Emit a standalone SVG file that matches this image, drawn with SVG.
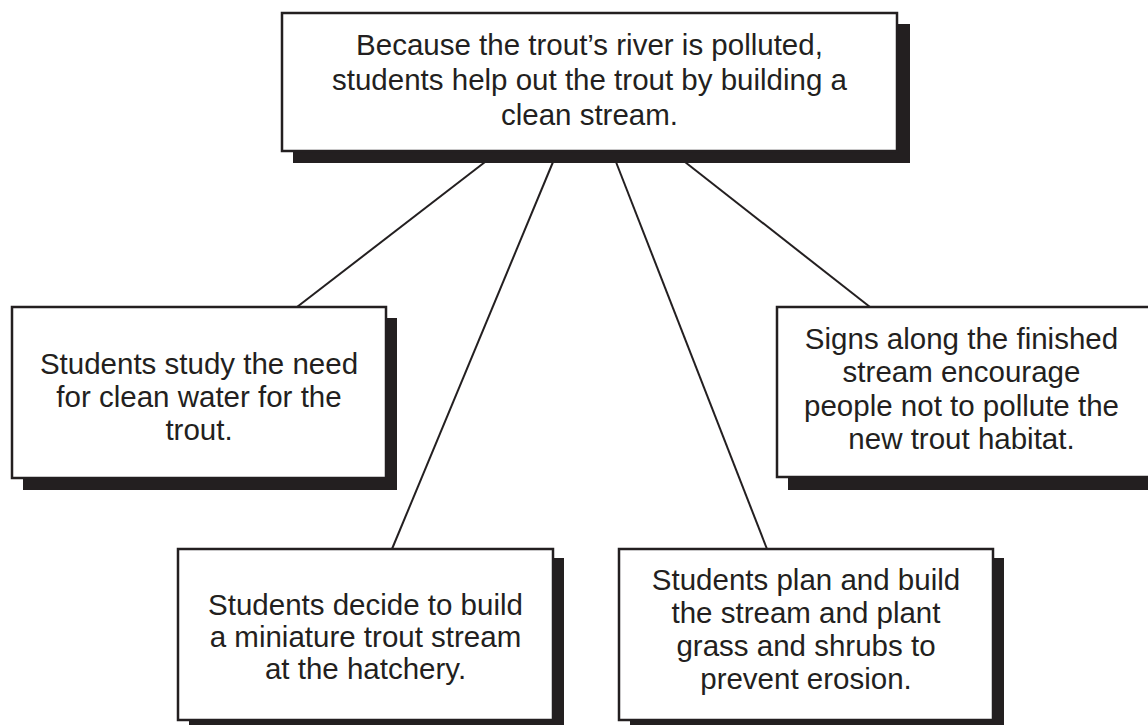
<svg xmlns="http://www.w3.org/2000/svg" width="1148" height="725" viewBox="0 0 1148 725">
  <style>
    .shadow { fill: #231f20; }
    .box { fill: #ffffff; stroke: #231f20; stroke-width: 2.5; }
    .label { font-family: "Liberation Sans", Arial, sans-serif; font-size: 29.5px; fill: #231f20; text-anchor: middle; }
    .link { stroke: #231f20; stroke-width: 2; fill: none; }
  </style>
  <rect width="1148" height="725" fill="#ffffff"/>

  <!-- spokes from the main idea to each detail -->
  <g id="connectors">
    <line class="link" x1="485" y1="162" x2="297" y2="307"/>
    <line class="link" x1="553" y1="162" x2="392" y2="549"/>
    <line class="link" x1="616" y1="162" x2="767" y2="549"/>
    <line class="link" x1="685" y1="162" x2="870" y2="307"/>
  </g>

  <g id="main-idea">
    <rect class="shadow" x="293" y="24" width="617" height="139"/>
    <rect class="box" x="282" y="13" width="615" height="138"/>
    <text class="label" x="589.5" y="55">Because the trout’s river is polluted,</text>
    <text class="label" x="589.5" y="90">students help out the trout by building a</text>
    <text class="label" x="589.5" y="125">clean stream.</text>
  </g>

  <g id="detail-study">
    <rect class="shadow" x="23" y="318" width="374" height="172"/>
    <rect class="box" x="12" y="307" width="374" height="171"/>
    <text class="label" x="199" y="374">Students study the need</text>
    <text class="label" x="199" y="407">for clean water for the</text>
    <text class="label" x="199" y="440">trout.</text>
  </g>

  <g id="detail-signs">
    <rect class="shadow" x="788" y="318" width="374" height="172"/>
    <rect class="box" x="777" y="307" width="374" height="170"/>
    <text class="label" x="961.5" y="348.5">Signs along the finished</text>
    <text class="label" x="961.5" y="382">stream encourage</text>
    <text class="label" x="961.5" y="415.5">people not to pollute the</text>
    <text class="label" x="961.5" y="449">new trout habitat.</text>
  </g>

  <g id="detail-decide">
    <rect class="shadow" x="189" y="558" width="375" height="172"/>
    <rect class="box" x="178" y="549" width="375" height="171"/>
    <text class="label" x="365.5" y="615">Students decide to build</text>
    <text class="label" x="365.5" y="647">a miniature trout stream</text>
    <text class="label" x="365.5" y="679">at the hatchery.</text>
  </g>

  <g id="detail-build">
    <rect class="shadow" x="630" y="558" width="374" height="172"/>
    <rect class="box" x="619" y="549" width="374" height="171"/>
    <text class="label" x="806" y="590">Students plan and build</text>
    <text class="label" x="806" y="623">the stream and plant</text>
    <text class="label" x="806" y="656">grass and shrubs to</text>
    <text class="label" x="806" y="689">prevent erosion.</text>
  </g>
</svg>
